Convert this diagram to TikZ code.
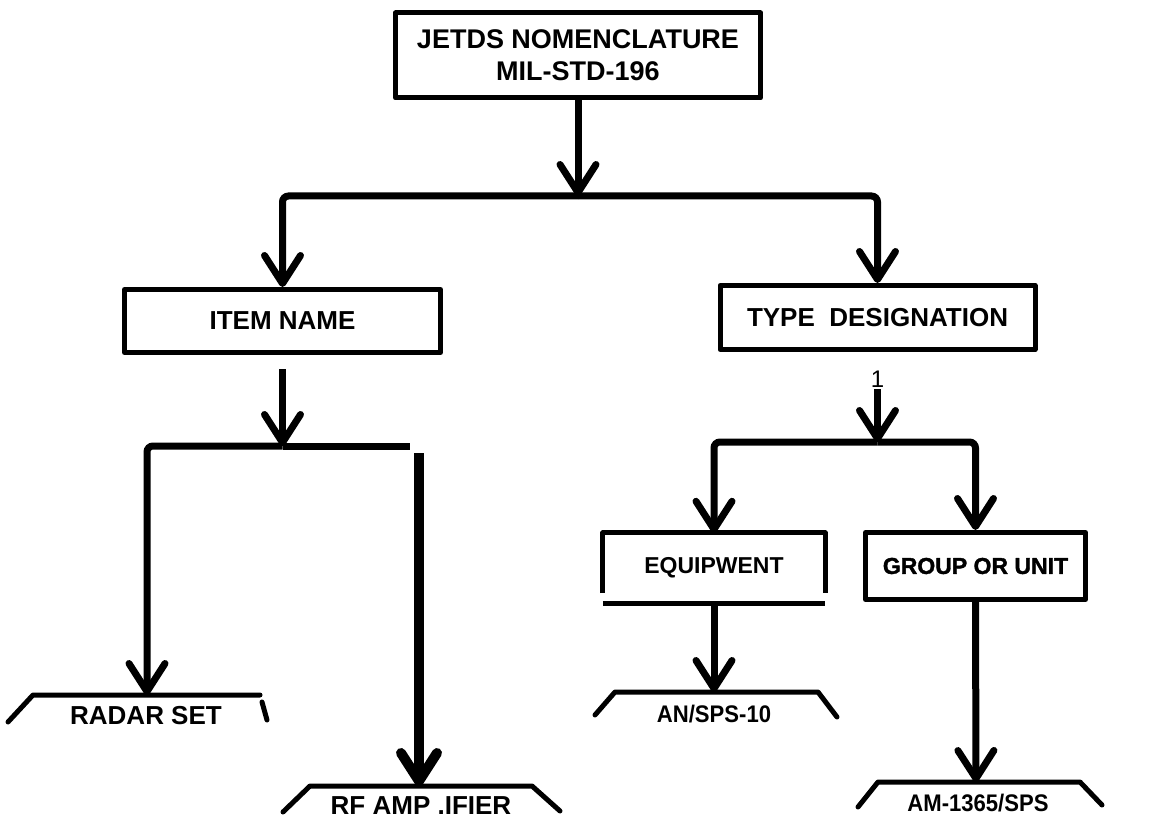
\documentclass[tikz,border=0pt]{standalone}
\usepackage{fontspec}
\setmainfont{Liberation Sans}
\newfontfamily\letterfont[FakeStretch=0.92]{Liberation Sans}
\newfontfamily\heavyfont[FakeBold=1.5]{Liberation Sans}
\usetikzlibrary{arrows.meta}
\tikzset{
  boxline/.style={line width=5pt, line join=round},
  conn/.style={line width=7pt, rounded corners=6pt},
  vtip/.style={-{Straight Barb[length=28pt,width=36pt,round]}},
  boxtext/.style={font=\fontsize{26}{33}\bfseries, align=center, inner sep=0pt},
  lettering/.style={font=\fontsize{26}{30}\bfseries, inner sep=0pt},
  narrowlettering/.style={font=\letterfont\fontsize{24}{28}\bfseries, inner sep=0pt},
  shelf/.style={line width=5pt, line cap=round, line join=round},
}
\begin{document}
\begin{tikzpicture}[x=1pt,y=-1pt]
\useasboundingbox[fill=white] (0,0) rectangle (1171,824);

% boxes
\node[boxtext, font=\fontsize{27}{32}\bfseries, draw, boxline, minimum width=365pt, minimum height=85pt] (top) at (578,55.5) {JETDS NOMENCLATURE\\MIL-STD-196};
\node[boxtext, draw, boxline, minimum width=316pt, minimum height=63pt] (item) at (282.5,321) {ITEM NAME};
\node[boxtext, draw, boxline, minimum width=315pt, minimum height=64pt] (type) at (877.5,317.5) {TYPE\ \ DESIGNATION};
\node[boxtext, font=\fontsize{23}{28}\bfseries, minimum width=222pt, minimum height=70pt] (equip) at (714,568) {EQUIPWENT};
\draw[boxline] ([yshift=10pt]equip.south west) -- (equip.north west) -- (equip.north east) -- ([yshift=10pt]equip.south east);
\draw[boxline] (equip.south west) -- (equip.south east);
\node[boxtext, draw, boxline, font=\heavyfont\fontsize{23}{28}\bfseries, minimum width=220pt, minimum height=67pt] (group) at (975.5,566) {GROUP OR UNIT};
\node[inner sep=0pt, font=\fontsize{24}{24}\selectfont] (one) at (877.5,379) {1};

% junctions and free ends
\coordinate (j1) at (578,196);
\coordinate (j2) at (282.5,446);
\coordinate (stub) at (410,446);
\coordinate (j3) at (877.5,442);
\coordinate (rfstart) at (419,453);
\coordinate (radar) at (147,695);
\coordinate (rf) at (419,786);
\coordinate (ansps) at (714,692);
\coordinate (amtop) at (976,782);

% connectors
\draw[conn, vtip] (top.south) -- (j1);
\draw[conn, vtip] (j1) -| (item.north);
\draw[conn, vtip] (j1) -| (type.north);
\draw[conn, vtip, shorten <=14pt] (item.south) -- (j2);
\draw[conn, vtip] (j2) -| (radar);
\draw[conn] (j2) -- (stub);
\draw[line width=10pt, vtip] (rfstart) -- (rf);
\draw[conn, vtip, shorten <=2pt] (one.south) -- (j3);
\draw[conn, vtip] (j3) -| (equip.north);
\draw[conn, vtip] (j3) -| (group.north);
\draw[conn, vtip] (equip.south) -- (ansps);
\draw[conn, vtip] (group.south) -- (amtop);

% labelled shelves
\draw[shelf] (8,722) -- (33,695) -- (260,695);
\draw[shelf] (262,702) -- (267,720);
\node[lettering] (radarlbl) at (146,716) {RADAR SET};
\draw[shelf] (283,812) -- (310,786) -- (532,786) -- (560,811);
\node[lettering] (rflbl) at (421,806) {RF AMP .IFIER};
\draw[shelf] (595,715) -- (615,692) -- (818,692) -- (837,717);
\node[narrowlettering] (anlbl) at (714,714) {AN/SPS-10};
\draw[shelf] (858,807) -- (878,782) -- (1080,782) -- (1102,805);
\node[narrowlettering] (amlbl) at (978,803) {AM-1365/SPS};
\end{tikzpicture}
\end{document}
